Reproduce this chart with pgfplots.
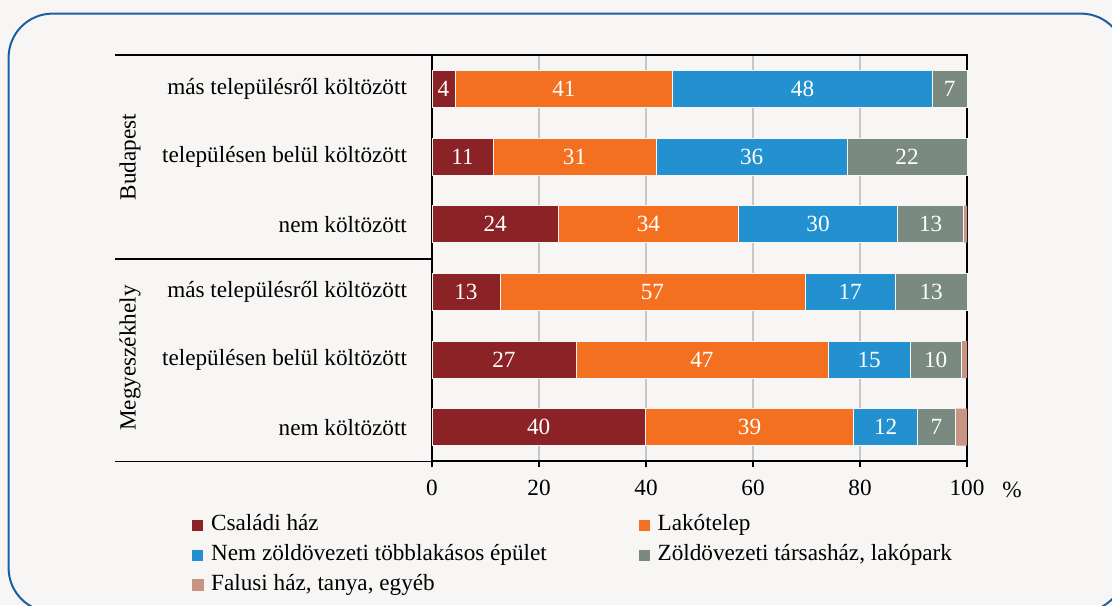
\documentclass[border=0pt]{standalone}
\usepackage{fontspec}
\setmainfont{Liberation Serif}
\usepackage{pgfplots}
\usepackage{pgfplotstable}
\pgfplotsset{compat=1.18}
\definecolor{cHaz}{HTML}{8B2226}
\definecolor{cLak}{HTML}{F37021}
\definecolor{cNem}{HTML}{2390D0}
\definecolor{cZold}{HTML}{7A8A80}
\definecolor{cFal}{HTML}{C99484}
\definecolor{bg}{HTML}{F7F6F4}
\definecolor{frm}{HTML}{1A5FA0}
\newcommand{\cf}{\fontsize{11.6}{13}\selectfont}

\pgfplotstableread{
row haz lak nem zold fal
1 4.3 40.7 48.5 6.5 0
2 11.4 30.5 35.7 22.4 0
3 23.6 33.7 29.7 12.4 0.6
4 12.7 57.0 16.9 13.4 0
5 26.9 47.1 15.4 9.5 1.1
6 39.9 38.9 12.0 7.0 2.2
}\shares

\pgfplotstableread{
x y label
2.15 1 4
24.65 1 41
69.25 1 48
96.75 1 7
5.7 2 11
26.65 2 31
59.75 2 36
88.8 2 22
11.8 3 24
40.45 3 34
72.15 3 30
93.2 3 13
6.35 4 13
41.2 4 57
78.15 4 17
93.3 4 13
13.45 5 27
50.45 5 47
81.7 5 15
94.15 5 10
19.95 6 40
59.35 6 39
84.8 6 12
94.3 6 7
}\labels

\begin{document}
\begin{tikzpicture}[x=1pt,y=1pt]
\path[use as bounding box, fill=bg] (0,0) rectangle (556,-302.5);
\begin{scope}
\clip (0,0) rectangle (556,-302.5);
\draw[frm, line width=1pt, rounded corners=22pt] (4.3,-6.8) rectangle (562.5,-306);
\end{scope}
\begin{axis}[
  name=main,
  at={(216pt,-27.5pt)}, anchor=north west,
  scale only axis, width=267.5pt, height=203pt,
  xbar stacked, bar width=18.5pt,
  xmin=0, xmax=100, ymin=0.5, ymax=6.5, y dir=reverse,
  xtick={0,20,...,100}, ytick={1,...,6},
  yticklabels={más településről költözött, településen belül költözött, nem költözött, más településről költözött, településen belül költözött, nem költözött},
  xmajorgrids, major grid style={black!22, line width=0.7pt},
  tick align=outside, xtick pos=bottom, major tick length=3pt,
  ytick style={draw=none},
  axis line style={line width=0.8pt},
  xtick style={black, line width=0.8pt},
  ticklabel style={font=\cf},
  yticklabel style={xshift=-6pt},
  xticklabel style={yshift=-3pt},
  /pgf/number format/assume math mode=true,
  legend columns=2,
  legend cell align=left,
  legend style={at={(-0.4617,-0.1207)}, anchor=north west, draw=none, fill=none, font=\cf,
    nodes={inner xsep=3.5pt, inner ysep=0pt, text height=8pt, text depth=2.5pt},
    row sep=4.5pt,
    /tikz/every even column/.append style={column sep=42pt}},
  legend image code/.code={\fill[#1] (0pt,-3pt) rectangle (6pt,3pt);},
  clip=false,
]
\addplot[fill=cHaz, draw=bg, line width=0.4pt] table[x=haz, y=row] {\shares};
\addplot[fill=cLak, draw=bg, line width=0.4pt] table[x=lak, y=row] {\shares};
\addplot[fill=cNem, draw=bg, line width=0.4pt] table[x=nem, y=row] {\shares};
\addplot[fill=cZold, draw=bg, line width=0.4pt] table[x=zold, y=row] {\shares};
\addplot[fill=cFal, draw=none] table[x=fal, y=row] {\shares};
\legend{Családi ház, Lakótelep, Nem zöldövezeti többlakásos épület, {Zöldövezeti társasház, lakópark}, {Falusi ház, tanya, egyéb}}
\end{axis}
\begin{axis}[
  at={(216pt,-27.5pt)}, anchor=north west,
  scale only axis, width=267.5pt, height=203pt,
  xmin=0, xmax=100, ymin=0.5, ymax=6.5, y dir=reverse,
  hide axis, clip=false,
]
\addplot[only marks, mark=none, nodes near coords, point meta=explicit symbolic,
  nodes near coords style={anchor=center, text=white, font=\cf}]
  table[x=x, y=y, meta=label] {\labels};
\end{axis}
\draw[line width=0.8pt] (57.5,-27.5) -- (216,-27.5);
\draw[line width=0.8pt] (57.5,-129.5) -- (216,-129.5);
\draw[line width=0.8pt] (57.5,-230.8) -- (216,-230.8);
\node[rotate=90, font=\cf] at (65,-78.5) {Budapest};
\node[rotate=90, font=\cf] at (65,-179) {Megyeszékhely};
\node[font=\cf] at (506,-245) {\%};
\end{tikzpicture}
\end{document}
